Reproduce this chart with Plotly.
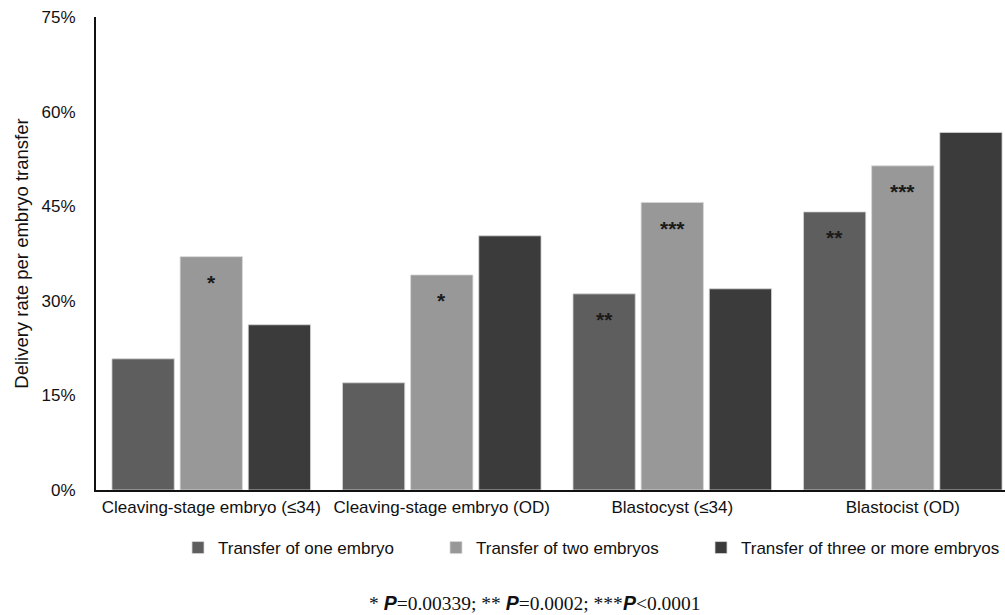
import plotly.graph_objects as go

categories = ["Cleaving-stage embryo (≤34)", "Cleaving-stage embryo (OD)",
              "Blastocyst (≤34)", "Blastocist (OD)"]
series_names = ["Transfer of one embryo", "Transfer of two embryos",
                "Transfer of three or more embryos"]
one_embryo = [20.8, 17.0, 31.1, 44.1]
two_embryos = [37.0, 34.1, 45.6, 51.4]
three_more = [26.2, 40.3, 31.9, 56.7]
one_marks = ["", "", "**", "**"]
two_marks = ["*", "*", "***", "***"]
three_marks = ["", "", "", ""]
y_ticks = [0, 15, 30, 45, 60, 75]
y_tick_labels = ["0%", "15%", "30%", "45%", "60%", "75%"]
P = "<span style='font-family:Liberation Sans'><b><i>P</i></b></span>"
footnote = f"* {P}=0.00339; ** {P}=0.0002; ***{P}&lt;0.0001"

colors = ["#5e5e5e", "#989898", "#3b3b3b"]
legend_widths = [213, 220, None]
series_values = [one_embryo, two_embryos, three_more]
series_marks = [one_marks, two_marks, three_marks]

FONT = "Liberation Sans"
BARGAP = 0.113
BARGROUPGAP = 0.086

fig = go.Figure()
for name, vals, col, lw in zip(series_names, series_values, colors, legend_widths):
    fig.add_trace(go.Bar(
        x=categories, y=vals, name=name,
        marker=dict(color=col, line=dict(color="#d8d8d8", width=0.8)),
        hoverinfo="skip", legendwidth=lw,
    ))

# significance asterisks, placed on the bars they belong to
n = len(series_values)
slot = (1 - BARGAP) / n
for k, (vals, marks) in enumerate(zip(series_values, series_marks)):
    for i, (v, m) in enumerate(zip(vals, marks)):
        if not m:
            continue
        fig.add_annotation(
            x=i + (k - (n - 1) / 2) * slot, y=v, xref="x", yref="y",
            text="<b>" + m + "</b>", showarrow=False, yanchor="middle", yshift=-26,
            font=dict(family=FONT, size=21, color="#1a1a1a"),
        )

fig.update_layout(
    width=1005, height=615,
    barmode="group", bargap=BARGAP, bargroupgap=BARGROUPGAP,
    plot_bgcolor="white", paper_bgcolor="white",
    margin=dict(l=96, r=0, t=17, b=125, autoexpand=False),
    font=dict(family=FONT, size=17, color="#111111"),
    showlegend=True,
    legend=dict(orientation="h", xref="container", yref="container",
                x=178 / 1005, y=1 - 548 / 615, xanchor="left", yanchor="middle",
                font=dict(family=FONT, size=17, color="#111111"),
                traceorder="normal", itemclick=False),
)
fig.update_xaxes(
    type="category", range=[-0.5, 3.5 - 13 / 230], automargin=False,
    showline=True, linecolor="#111111", linewidth=2,
    ticks="", showgrid=False, ticklabelstandoff=1,
    tickfont=dict(family=FONT, size=17, color="#111111"),
)
fig.update_yaxes(
    range=[0, 75], tickvals=y_ticks, ticktext=y_tick_labels, automargin=False,
    showline=True, linecolor="#111111", linewidth=2,
    ticks="", showgrid=False, zeroline=False, ticklabelstandoff=15,
    tickfont=dict(family=FONT, size=17, color="#111111"),
    title=dict(text="Delivery rate per embryo transfer", standoff=8,
               font=dict(family=FONT, size=18.5, color="#111111")),
)
fig.add_annotation(
    text=footnote, xref="paper", yref="paper",
    x=(535 - 96) / 909, y=(490 - 603) / 473, xanchor="center", yanchor="middle",
    showarrow=False,
    font=dict(family="Liberation Serif", size=19.5, color="#111111"),
)
fig.write_html("out.html", config={"displayModeBar": False},
               post_script="document.body.style.margin='0';")
